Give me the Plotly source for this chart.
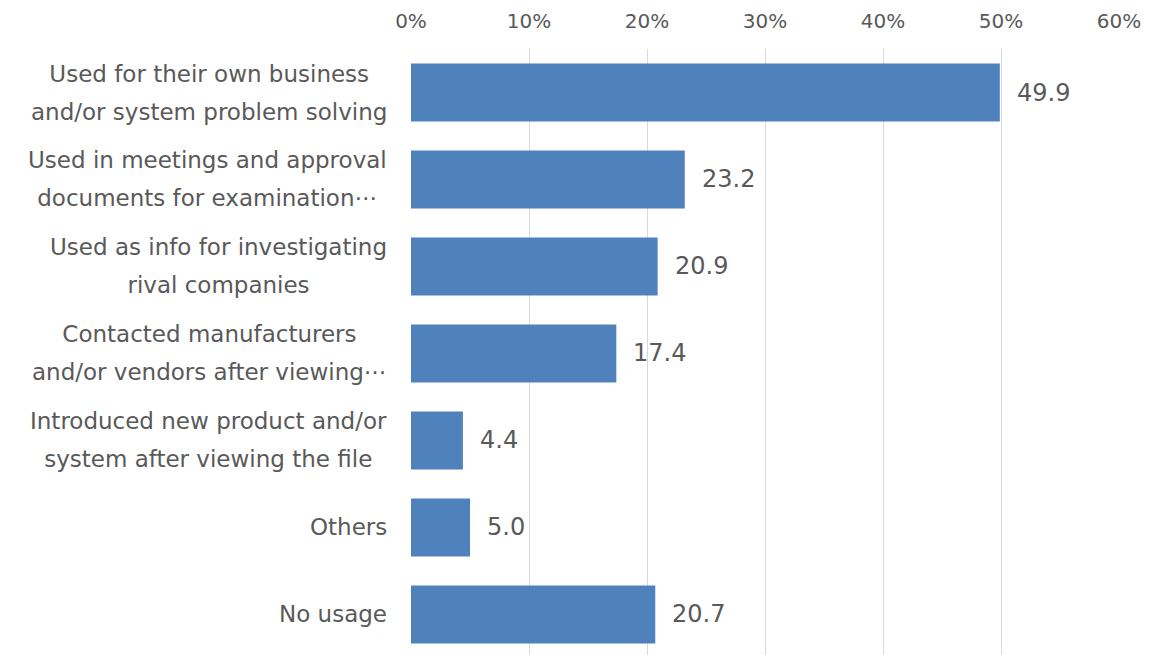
import plotly.graph_objects as go

# Survey: how the downloaded file was used (%)
categories = [
    "Used for their own business<br>and/or system problem solving",
    "Used in meetings and approval<br>documents for examination\u22ef",
    "Used as info for investigating<br>rival companies",
    "Contacted manufacturers<br>and/or vendors after viewing\u22ef",
    "Introduced new product and/or<br>system after viewing the file",
    "Others",
    "No usage",
]
values = [49.9, 23.2, 20.9, 17.4, 4.4, 5.0, 20.7]
tick_values = [0, 10, 20, 30, 40, 50, 60]
tick_labels = ["0%", "10%", "20%", "30%", "40%", "50%", "60%"]

TEXT = "#595959"
FONT = "DejaVu Sans"

fig = go.Figure(
    go.Bar(
        x=values,
        y=list(range(len(categories))),
        orientation="h",
        marker=dict(color="#4f81bd", line=dict(width=0)),
        hoverinfo="skip",
    )
)

annotations = []
for i, (cat, v) in enumerate(zip(categories, values)):
    # category label: the outer font size sets the line pitch, the span sets glyph size
    lines = cat.split("<br>")
    label = "<br>".join(f'<span style="font-size:23px">{ln}</span>' for ln in lines)
    annotations.append(dict(
        x=0, xref="paper", y=i, yref="y", text=label,
        xanchor="right", yanchor="middle", align="center",
        xshift=-22, showarrow=False,
        font=dict(family=FONT, size=29, color=TEXT),
    ))
    # value label at bar end
    annotations.append(dict(
        x=v, xref="x", y=i, yref="y", text=f"{v:.1f}",
        xanchor="left", yanchor="middle", showarrow=False, xshift=15,
        font=dict(family=FONT, size=24, color=TEXT),
    ))

fig.update_layout(
    width=1149, height=655,
    margin=dict(l=411, r=30, t=49, b=0),
    paper_bgcolor="white", plot_bgcolor="white",
    bargap=0.333,
    showlegend=False,
    annotations=annotations,
    xaxis=dict(
        side="top", range=[0, 60], tickvals=tick_values, ticktext=tick_labels,
        showgrid=True, gridcolor="#d9d9d9", gridwidth=1.4,
        zeroline=False, showline=False, ticks="",
        tickfont=dict(family=FONT, size=20, color=TEXT),
        ticklabelstandoff=16,
    ),
    yaxis=dict(
        range=[6.466, -0.5], showticklabels=False, showgrid=False,
        zeroline=False, showline=False, ticks="",
    ),
)

fig.write_html("out.html")
